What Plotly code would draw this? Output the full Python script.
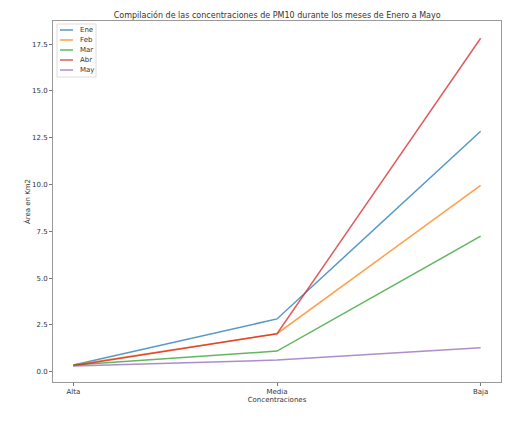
import plotly.graph_objects as go

categorias = ["Alta", "Media", "Baja"]
meses = ["Ene", "Feb", "Mar", "Abr", "May"]
ene = [0.36, 2.82, 12.85]
feb = [0.36, 2.03, 9.96]
mar = [0.36, 1.10, 7.24]
abr = [0.32, 2.03, 17.82]
may = [0.30, 0.62, 1.28]
colores = ["#1f77b4", "#ff7f0e", "#2ca02c", "#d62728", "#9467bd"]

series = [ene, feb, mar, abr, may]
fig = go.Figure()
for nombre, vals, col in zip(meses, series, colores):
    fig.add_trace(go.Scatter(
        x=list(range(len(categorias))), y=vals, mode="lines", name=nombre,
        line=dict(color=col, width=1.5), opacity=0.75, showlegend=False,
    ))

# plot area in pixels (for legend placement in paper coords)
L, R, T, B = 53, 501, 21, 382
def px(x):
    return (x - L) / (R - L)
def py(y):
    return (B - y) / (B - T)

shapes = [dict(type="rect", xref="paper", yref="paper",
               x0=px(57), x1=px(96), y0=py(77), y1=py(24),
               line=dict(color="#dddddd", width=1), fillcolor="rgba(255,255,255,0.8)")]
annotations = []
for i, (nombre, col) in enumerate(zip(meses, colores)):
    yy = 30 + 10 * i
    shapes.append(dict(type="line", xref="paper", yref="paper",
                       x0=px(60), x1=px(73), y0=py(yy), y1=py(yy),
                       line=dict(color=col, width=1.5), opacity=0.75))
    annotations.append(dict(xref="paper", yref="paper", x=px(78), y=py(yy),
                            text=nombre, showarrow=False, xanchor="left", yanchor="middle",
                            font=dict(size=7, color="#333333")))

axis_common = dict(
    showgrid=False, zeroline=False, showline=True, linecolor="#999999",
    linewidth=1, mirror=True, ticks="outside", ticklen=3, tickcolor="#777777",
    tickfont=dict(family="DejaVu Sans", size=7, color="#333333"),
)

fig.update_layout(
    width=522, height=431,
    margin=dict(l=L, r=522 - R, t=T, b=431 - B),
    paper_bgcolor="white", plot_bgcolor="white",
    font=dict(family="DejaVu Sans", color="#333333"),
    title=dict(text="Compilación de las concentraciones de PM10 durante los meses de Enero a Mayo",
               x=0.531, xanchor="center", y=0.965, yanchor="middle",
               font=dict(size=8, color="#333333")),
    showlegend=False,
    shapes=shapes,
    annotations=annotations,
    xaxis=dict(
        tickmode="array", tickvals=list(range(len(categorias))), ticktext=categorias,
        range=[-0.1, 2.1],
        title=dict(text="Concentraciones", font=dict(size=7), standoff=1),
        **axis_common,
    ),
    yaxis=dict(
        range=[-0.55, 18.74], tickmode="array",
        tickvals=[0, 2.5, 5, 7.5, 10, 12.5, 15, 17.5],
        tickformat=".1f",
        title=dict(text="Área en Km2", font=dict(size=7), standoff=0),
        **axis_common,
    ),
)

fig.write_html("out.html", config={"displayModeBar": False},
               post_script="document.body.style.margin='0';document.body.style.overflow='hidden';")
